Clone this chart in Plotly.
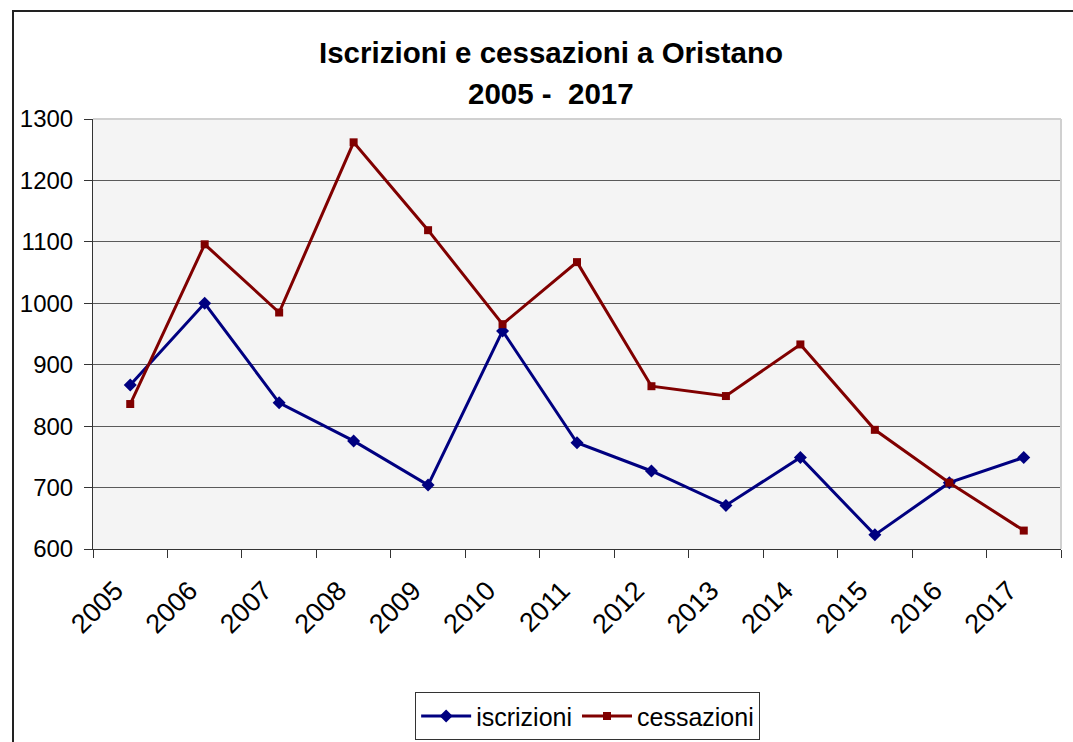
import plotly.graph_objects as go

years = ["2005", "2006", "2007", "2008", "2009", "2010", "2011",
         "2012", "2013", "2014", "2015", "2016", "2017"]
iscrizioni = [867, 1000, 838, 776, 704, 955, 773, 727, 671, 749, 623, 708, 749]
cessazioni = [836, 1096, 985, 1262, 1119, 966, 1067, 865, 849, 933, 794, 708, 630]

FONT = "Liberation Sans, Arial, sans-serif"

fig = go.Figure()
fig.add_trace(go.Scatter(
    x=years, y=iscrizioni, name="iscrizioni", mode="lines+markers",
    line=dict(color="#000080", width=3),
    marker=dict(symbol="diamond", size=10, color="#000080"),
))
fig.add_trace(go.Scatter(
    x=years, y=cessazioni, name="cessazioni", mode="lines+markers",
    line=dict(color="#800000", width=3),
    marker=dict(symbol="square", size=8, color="#800000"),
))

fig.update_layout(
    width=1073, height=742,
    margin=dict(l=93, r=12, t=119, b=193, autoexpand=False),
    paper_bgcolor="white",
    plot_bgcolor="#f4f4f4",
    font=dict(family=FONT, size=26, color="black"),
    showlegend=True,
    legend=dict(
        orientation="h", x=0.511, xanchor="center", y=-0.333, yanchor="top",
        bgcolor="white", bordercolor="#333333", borderwidth=1,
        font=dict(size=25), itemwidth=50,
    ),
    annotations=[
        dict(text="<b>Iscrizioni e cessazioni a Oristano</b>", xref="paper", yref="paper",
             x=0.473, y=(549 - 52) / 430, xanchor="center", yanchor="middle",
             showarrow=False, font=dict(size=29.5)),
        dict(text="<b>2005 -  2017</b>", xref="paper", yref="paper",
             x=0.473, y=(549 - 93) / 430, xanchor="center", yanchor="middle",
             showarrow=False, font=dict(size=29.5)),
    ],
    shapes=[
        # outer chart border
        dict(type="rect", xref="paper", yref="paper",
             x0=(13 - 93) / 968, x1=(1090 - 93) / 968,
             y0=(549 - 760) / 430, y1=(549 - 11) / 430,
             line=dict(color="#222222", width=2), fillcolor="rgba(0,0,0,0)", layer="below"),
        # light plot-area border top / right
        dict(type="line", xref="paper", yref="paper", x0=0, x1=1, y0=1, y1=1,
             line=dict(color="#d0d0d0", width=2)),
        dict(type="line", xref="paper", yref="paper", x0=1, x1=1, y0=0, y1=1,
             line=dict(color="#d0d0d0", width=2)),
    ],
)

fig.update_xaxes(
    type="category", range=[-0.5, 12.5], tickson="boundaries", tickangle=-45,
    showgrid=False, showline=True, linecolor="#333333", linewidth=1,
    ticks="outside", ticklen=8, tickcolor="#333333",
    tickfont=dict(size=27),
    ticklabelstandoff=14, ticklabelshift=-15,
    zeroline=False, fixedrange=True,
)
fig.update_yaxes(
    range=[600, 1300], tickvals=[600, 700, 800, 900, 1000, 1100, 1200, 1300],
    showgrid=True, gridcolor="#5a5a5a", gridwidth=1,
    showline=True, linecolor="#333333", linewidth=1,
    ticks="outside", ticklen=8, tickcolor="#333333",
    tickfont=dict(size=24),
    ticklabelstandoff=6, zeroline=False, fixedrange=True,
)

fig.write_html("out.html", config={"displayModeBar": False},
               post_script="document.body.style.margin='0';document.body.style.overflow='hidden';")
